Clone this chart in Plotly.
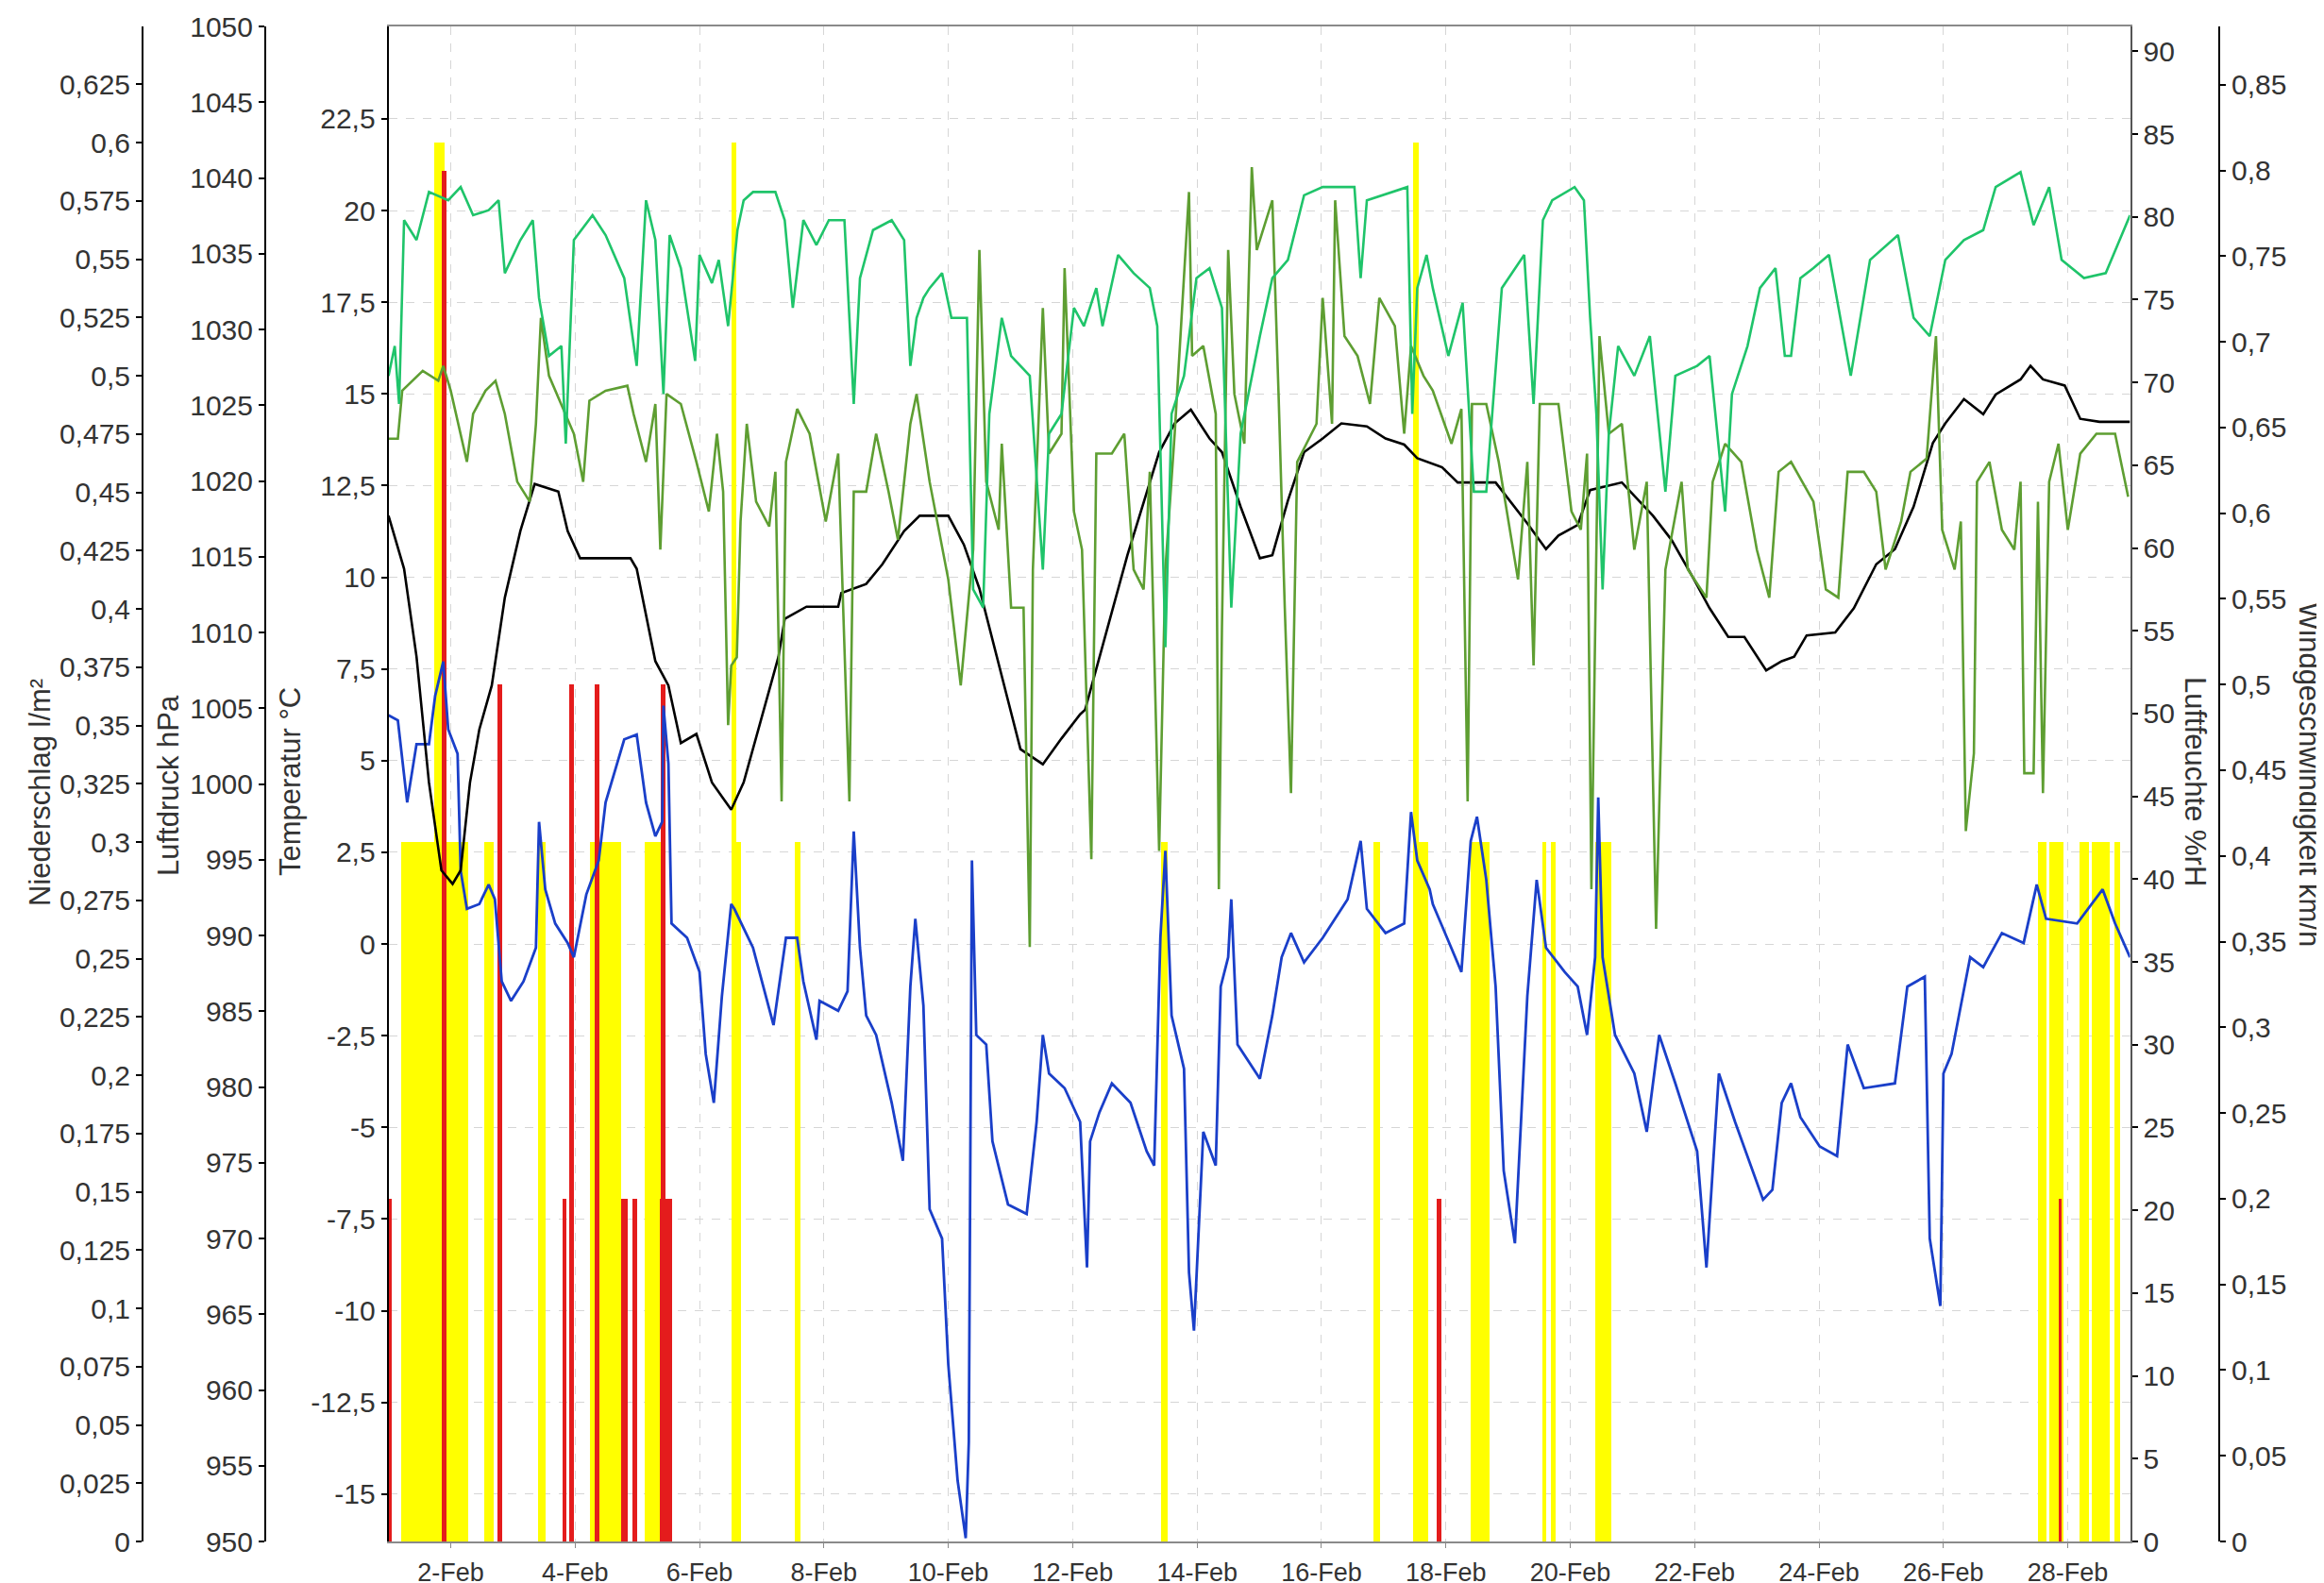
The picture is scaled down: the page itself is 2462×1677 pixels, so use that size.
import datetime as dt
import plotly.graph_objects as go

BASE = dt.datetime(2023, 2, 1)

# ---------------- data (day offsets from 1-Feb 00:00) ----------------
press_day = [0, 0.25, 0.45, 0.65, 0.85, 1.03, 1.16, 1.31, 1.46, 1.66, 1.87, 2.12, 2.35, 2.73, 2.88, 3.08, 3.89, 3.99,
             4.29, 4.5, 4.7, 4.95, 5.2, 5.51, 5.71, 6.27, 6.37, 6.72, 7.23, 7.28, 7.68, 7.94, 8.29, 8.54, 9.0, 9.25,
             9.5, 9.86, 10.16, 10.52, 10.82, 11.12, 11.2, 11.48, 11.88, 12.39, 12.64, 12.9, 13.2, 13.4, 13.7, 14.01,
             14.21, 14.46, 14.72, 15.02, 15.32, 15.73, 16.03, 16.33, 16.54, 16.94, 17.19, 17.8, 18.1, 18.31, 18.61,
             18.81, 19.12, 19.32, 19.83, 20.33, 20.63, 20.99, 21.24, 21.54, 21.8, 22.15, 22.4, 22.6, 22.8, 23.26,
             23.56, 23.92, 24.22, 24.52, 24.83, 25.03, 25.33, 25.64, 25.84, 26.24, 26.4, 26.6, 26.95, 27.2, 27.51, 28.0]
press_val = [1017.7, 1014.2, 1008.4, 1000.1, 994.3, 993.4, 994.3, 1000.1, 1003.6, 1006.5, 1012.3, 1016.7, 1019.8,
             1019.3, 1016.7, 1014.9, 1014.9, 1014.2, 1008.1, 1006.5, 1002.7, 1003.3, 1000.1, 998.3, 1000.1, 1008.4,
             1010.9, 1011.7, 1011.7, 1012.6, 1013.2, 1014.5, 1016.7, 1017.7, 1017.7, 1015.8, 1012.9, 1007.1, 1002.3,
             1001.3, 1003.0, 1004.6, 1004.9, 1009.1, 1015.1, 1021.9, 1023.8, 1024.7, 1022.8, 1021.9, 1018.3, 1014.9,
             1015.1, 1018.7, 1021.9, 1022.8, 1023.8, 1023.6, 1022.8, 1022.4, 1021.5, 1020.9, 1019.9, 1019.9, 1018.3,
             1017.2, 1015.5, 1016.4, 1017.1, 1019.4, 1019.9, 1017.7, 1016.1, 1013.5, 1011.6, 1009.7, 1009.7, 1007.5,
             1008.1, 1008.4, 1009.8, 1010.0, 1011.6, 1014.5, 1015.5, 1018.3, 1022.5, 1023.8, 1025.4, 1024.4, 1025.7,
             1026.7, 1027.6, 1026.7, 1026.3, 1024.1, 1023.9, 1023.9]

temp_day = [0, 0.15, 0.3, 0.45, 0.65, 0.75, 0.88, 0.96, 1.11, 1.16, 1.26, 1.46, 1.61, 1.71, 1.82, 1.97, 2.17, 2.37,
            2.42, 2.52, 2.68, 2.88, 2.98, 3.18, 3.38, 3.49, 3.79, 3.99, 4.14, 4.29, 4.4, 4.42, 4.5, 4.55, 4.8, 5.0,
            5.1, 5.23, 5.36, 5.51, 5.56, 5.86, 6.19, 6.39, 6.57, 6.67, 6.88, 6.93, 7.23, 7.38, 7.48, 7.58, 7.68,
            7.84, 8.09, 8.27, 8.39, 8.47, 8.6, 8.7, 8.9, 9.0, 9.15, 9.28, 9.33, 9.38, 9.45, 9.61, 9.71, 9.96, 10.26,
            10.42, 10.52, 10.62, 10.87, 11.12, 11.23, 11.28, 11.43, 11.63, 11.93, 12.19, 12.31, 12.41, 12.49, 12.59,
            12.79, 12.87, 12.95, 13.1, 13.3, 13.38, 13.5, 13.55, 13.65, 13.86, 14.01, 14.21, 14.36, 14.51, 14.72,
            15.02, 15.42, 15.63, 15.73, 16.03, 16.33, 16.44, 16.54, 16.74, 16.79, 17.25, 17.4, 17.5, 17.65, 17.8,
            17.93, 18.11, 18.31, 18.46, 18.61, 18.91, 19.12, 19.27, 19.4, 19.45, 19.52, 19.72, 20.03, 20.23, 20.43,
            20.69, 21.04, 21.19, 21.39, 21.65, 22.1, 22.25, 22.4, 22.55, 22.7, 23.01, 23.29, 23.46, 23.72, 24.22,
            24.42, 24.7, 24.78, 24.95, 25.0, 25.13, 25.43, 25.64, 25.94, 26.29, 26.5, 26.65, 27.15, 27.56, 27.76, 28.0]
temp_val = [6.24, 6.1, 3.86, 5.45, 5.45, 6.77, 7.7, 5.85, 5.19, 2.0, 0.96, 1.09, 1.62, 1.22, -1.02, -1.55, -1.02, -0.1,
            3.33, 1.49, 0.56, 0.03, -0.36, 1.35, 2.28, 3.86, 5.58, 5.71, 3.86, 2.94, 3.33, 6.5, 4.92, 0.56, 0.17, -0.76,
            -3.0, -4.33, -1.42, 1.09, 0.96, -0.1, -2.21, 0.17, 0.17, -1.02, -2.61, -1.55, -1.82, -1.29, 3.07, -0.1,
            -1.95, -2.48, -4.33, -5.91, -1.16, 0.69, -1.68, -7.23, -8.03, -11.46, -14.63, -16.2, -13.57, 2.28, -2.48,
            -2.74, -5.38, -7.1, -7.36, -4.85, -2.48, -3.53, -3.93, -4.85, -8.82, -5.38, -4.59, -3.8, -4.33, -5.65,
            -6.04, 0.17, 2.54, -1.95, -3.4, -8.95, -10.54, -5.12, -6.04, -1.16, -0.36, 1.22, -2.74, -3.27, -3.67,
            -1.95, -0.36, 0.3, -0.5, 0.17, 1.22, 2.81, 0.96, 0.3, 0.56, 3.6, 2.28, 1.49, 1.09, -0.76, 2.81, 3.47,
            1.75, -1.16, -6.18, -8.16, -1.42, 1.75, -0.1, -0.76, -1.16, -2.48, -0.36, 4.0, -0.36, -2.48, -3.53,
            -5.12, -2.48, -3.8, -5.65, -8.82, -3.53, -4.85, -6.97, -6.7, -4.33, -3.8, -4.72, -5.52, -5.78, -2.74,
            -3.93, -3.8, -1.16, -0.89, -8.03, -9.87, -3.53, -3.0, -0.36, -0.63, 0.3, 0.03, 1.62, 0.69, 0.56, 1.49,
            0.56, -0.36]

hum_out_day = [0, 0.1, 0.17, 0.25, 0.45, 0.65, 0.96, 1.16, 1.36, 1.61, 1.77, 1.87, 2.12, 2.32, 2.42, 2.58, 2.78, 2.85,
               2.98, 3.28, 3.49, 3.79, 3.99, 4.14, 4.29, 4.42, 4.52, 4.7, 4.93, 5.0, 5.2, 5.31, 5.46, 5.61, 5.71,
               5.86, 6.22, 6.37, 6.5, 6.67, 6.88, 7.08, 7.33, 7.48, 7.58, 7.79, 8.09, 8.29, 8.39, 8.49, 8.6, 8.7,
               8.9, 9.05, 9.3, 9.4, 9.56, 9.66, 9.86, 10.01, 10.31, 10.52, 10.62, 10.82, 11.02, 11.18, 11.38, 11.48,
               11.73, 11.98, 12.24, 12.36, 12.49, 12.59, 12.79, 12.99, 13.2, 13.4, 13.55, 13.7, 14.01, 14.21, 14.46,
               14.72, 15.02, 15.53, 15.63, 15.73, 16.38, 16.46, 16.54, 16.69, 16.79, 17.04, 17.27, 17.45, 17.65,
               17.9, 18.26, 18.41, 18.56, 18.71, 19.07, 19.22, 19.32, 19.42, 19.52, 19.62, 19.77, 20.03, 20.28,
               20.53, 20.69, 21.04, 21.24, 21.49, 21.6, 21.85, 22.05, 22.3, 22.45, 22.55, 22.7, 22.91, 23.16, 23.51,
               23.82, 24.27, 24.52, 24.78, 25.03, 25.33, 25.64, 25.84, 26.24, 26.45, 26.7, 26.9, 27.26, 27.61, 28.0]
hum_out_val = [70.4, 72.2, 68.7, 79.8, 78.6, 81.5, 81.0, 81.8, 80.1, 80.4, 81.0, 76.6, 78.6, 79.8, 75.1, 71.6, 72.2,
               66.3, 78.6, 80.1, 78.9, 76.3, 71.0, 81.0, 78.6, 69.3, 78.9, 76.9, 71.3, 77.7, 76.0, 77.4, 73.4, 79.2,
               81.0, 81.5, 81.5, 79.8, 74.5, 79.8, 78.3, 79.8, 79.8, 68.7, 76.3, 79.2, 79.8, 78.6, 71.0, 73.9, 75.1,
               75.7, 76.6, 73.9, 73.9, 57.5, 56.4, 68.1, 73.9, 71.6, 70.4, 58.7, 66.9, 68.1, 74.5, 73.4, 75.7, 73.4,
               77.7, 76.6, 75.7, 73.4, 54.0, 68.1, 70.4, 76.3, 76.9, 74.5, 56.4, 66.9, 72.8, 76.3, 77.4, 81.3, 81.8,
               81.8, 76.3, 81.0, 81.8, 68.1, 75.7, 77.7, 75.7, 71.6, 74.8, 63.4, 63.4, 75.7, 77.7, 68.7, 79.8, 81.0,
               81.8, 81.0, 73.9, 68.1, 57.5, 66.9, 72.2, 70.4, 72.8, 63.4, 70.4, 71.0, 71.6, 62.2, 69.3, 72.2, 75.7,
               76.9, 71.6, 71.6, 76.3, 76.9, 77.7, 70.4, 77.4, 78.9, 73.9, 72.8, 77.4, 78.6, 79.2, 81.8, 82.7, 79.5,
               81.8, 77.4, 76.3, 76.6, 80.1]

hum_in_day = [0, 0.15, 0.22, 0.55, 0.8, 0.88, 1.0, 1.26, 1.36, 1.56, 1.72, 1.87, 2.07, 2.27, 2.37, 2.45, 2.58, 2.98,
              3.13, 3.23, 3.49, 3.84, 3.94, 4.14, 4.29, 4.37, 4.47, 4.7, 4.95, 5.15, 5.28, 5.38, 5.46, 5.51, 5.6,
              5.66, 5.76, 5.91, 6.12, 6.22, 6.32, 6.39, 6.57, 6.77, 7.03, 7.23, 7.41, 7.48, 7.68, 7.84, 8.04, 8.19,
              8.39, 8.49, 8.7, 9.0, 9.2, 9.4, 9.5, 9.61, 9.81, 9.86, 10.01, 10.21, 10.31, 10.36, 10.52, 10.62,
              10.82, 10.87, 11.02, 11.15, 11.3, 11.38, 11.63, 11.83, 11.98, 12.14, 12.24, 12.39, 12.49, 12.64,
              12.87, 12.92, 13.1, 13.3, 13.35, 13.4, 13.5, 13.6, 13.76, 13.88, 13.96, 14.21, 14.31, 14.41, 14.51,
              14.61, 14.92, 15.02, 15.17, 15.22, 15.37, 15.58, 15.78, 15.93, 16.18, 16.33, 16.44, 16.64, 16.79,
              17.09, 17.25, 17.35, 17.42, 17.65, 17.85, 18.16, 18.31, 18.41, 18.51, 18.81, 19.02, 19.17, 19.27,
              19.34, 19.47, 19.62, 19.83, 20.03, 20.23, 20.38, 20.53, 20.79, 20.89, 21.19, 21.29, 21.49, 21.75,
              22.0, 22.2, 22.35, 22.55, 22.91, 23.11, 23.31, 23.46, 23.72, 23.92, 24.07, 24.32, 24.47, 24.73,
              24.88, 24.98, 25.18, 25.28, 25.36, 25.49, 25.54, 25.74, 25.94, 26.14, 26.24, 26.3, 26.45, 26.52,
              26.6, 26.7, 26.85, 27.0, 27.2, 27.46, 27.76, 27.97]
hum_in_val = [66.6, 66.6, 69.5, 70.7, 70.1, 71.0, 69.5, 65.2, 68.1, 69.5, 70.1, 68.1, 64.0, 62.8, 67.5, 73.9, 70.4,
              66.9, 64.0, 68.9, 69.5, 69.8, 68.1, 65.2, 68.7, 59.9, 69.3, 68.7, 65.2, 62.2, 66.9, 63.4, 49.3, 52.9,
              53.4, 61.6, 67.5, 62.8, 61.3, 64.6, 44.7, 65.2, 68.4, 66.9, 61.6, 65.7, 44.7, 63.4, 63.4, 66.9, 63.4,
              60.5, 67.5, 69.3, 64.0, 58.1, 51.7, 59.9, 78.0, 64.0, 61.1, 66.3, 56.4, 56.4, 35.9, 58.7, 74.5, 65.7,
              66.9, 76.9, 62.2, 59.9, 41.2, 65.7, 65.7, 66.9, 58.7, 57.5, 64.6, 41.7, 58.7, 66.9, 81.5, 71.6, 72.2,
              68.1, 39.4, 55.2, 78.0, 69.3, 66.3, 83.0, 78.0, 81.0, 69.3, 56.4, 45.2, 65.2, 67.5, 75.1, 67.5, 81.0,
              72.8, 71.6, 68.7, 75.1, 73.4, 66.9, 72.2, 70.4, 69.5, 66.3, 68.4, 44.7, 68.7, 68.7, 65.2, 58.1, 65.2,
              52.9, 68.7, 68.7, 62.2, 61.1, 65.7, 39.4, 72.8, 66.9, 67.5, 59.9, 64.0, 37.0, 58.7, 64.0, 58.7, 57.0,
              64.0, 66.3, 65.2, 59.9, 57.0, 64.6, 65.2, 62.8, 57.5, 57.0, 64.6, 64.6, 63.4, 58.7, 61.6, 64.6, 65.4,
              72.8, 61.1, 58.7, 61.6, 42.9, 47.6, 64.0, 65.2, 61.1, 59.9, 64.0, 46.4, 46.4, 62.8, 45.2, 64.0, 66.3,
              61.1, 65.7, 66.9, 66.9, 63.1]

rain_start = [0.20, 1.54, 2.40, 3.23, 4.12, 5.51, 6.52, 12.41, 15.83, 16.46, 17.40, 18.54, 18.69, 19.40,
              26.52, 26.70, 27.18, 27.38, 27.74]
rain_end = [1.28, 1.69, 2.52, 3.74, 4.37, 5.66, 6.62, 12.52, 15.93, 16.71, 17.70, 18.61, 18.76, 19.65,
            26.65, 26.93, 27.33, 27.66, 27.84]
rain_val = [0.3] * len(rain_start)
rain_peak_start = [0.73, 5.51, 16.46]
rain_peak_end = [0.90, 5.58, 16.56]
rain_peak_val = [0.6, 0.6, 0.6]

wind_start = [0.00, 0.85, 1.74, 2.80, 2.90, 3.31, 3.74, 3.92, 4.35, 4.37, 16.84, 26.85]
wind_end = [0.05, 0.93, 1.82, 2.85, 2.98, 3.38, 3.84, 3.99, 4.55, 4.45, 16.92, 26.90]
wind_val = [0.2, 0.8, 0.5, 0.2, 0.5, 0.5, 0.2, 0.2, 0.2, 0.5, 0.2, 0.2]

temp_tickvals = [-15, -12.5, -10, -7.5, -5, -2.5, 0, 2.5, 5, 7.5, 10, 12.5, 15, 17.5, 20, 22.5]
temp_ticktext = ["-15", "-12,5", "-10", "-7,5", "-5", "-2,5", "0", "2,5", "5", "7,5", "10", "12,5",
                 "15", "17,5", "20", "22,5"]


def to_dt(days):
    return [BASE + dt.timedelta(days=d) for d in days]


def bar_mid(s, e):
    return [BASE + dt.timedelta(days=(a + b) / 2) for a, b in zip(s, e)]


def bar_w(s, e):
    return [(b - a) * 86400000 for a, b in zip(s, e)]


# ---------------- figure ----------------
W, H = 2462, 1677
MT, MB = 20, 52
PH = H - MT - MB

fig = go.Figure()

fig.add_trace(go.Bar(x=bar_mid(rain_start, rain_end), y=rain_val, width=bar_w(rain_start, rain_end),
                     marker=dict(color="#ffff00", line=dict(width=0)), yaxis="y", name="Niederschlag"))
fig.add_trace(go.Bar(x=bar_mid(rain_peak_start, rain_peak_end), y=rain_peak_val,
                     width=bar_w(rain_peak_start, rain_peak_end),
                     marker=dict(color="#ffff00", line=dict(width=0)), yaxis="y", name="Niederschlag"))
fig.add_trace(go.Bar(x=bar_mid(wind_start, wind_end), y=wind_val, width=bar_w(wind_start, wind_end),
                     marker=dict(color="#e41c1c", line=dict(width=0)), yaxis="y2", name="Wind"))
fig.add_trace(go.Scatter(x=to_dt(temp_day), y=temp_val, mode="lines", yaxis="y3",
                         line=dict(color="#1a3fc9", width=2.8), name="Temperatur"))
fig.add_trace(go.Scatter(x=to_dt(press_day), y=press_val, mode="lines", yaxis="y4",
                         line=dict(color="#000000", width=2.6), name="Luftdruck"))
fig.add_trace(go.Scatter(x=to_dt(hum_in_day), y=hum_in_val, mode="lines", yaxis="y5",
                         line=dict(color="#5e9e32", width=2.6), name="Luftfeuchte innen"))
fig.add_trace(go.Scatter(x=to_dt(hum_out_day), y=hum_out_val, mode="lines", yaxis="y5",
                         line=dict(color="#1fc46a", width=2.6), name="Luftfeuchte"))

FONT = "Liberation Sans, Arial, sans-serif"
tickfont = dict(family=FONT, size=30, color="#333333")
xtickfont = dict(family=FONT, size=27, color="#333333")
common = dict(showline=True, linecolor="black", linewidth=2, ticks="outside", ticklen=6, tickwidth=1.5,
              tickcolor="black", tickfont=tickfont, showgrid=False, zeroline=False, fixedrange=True)

x_dom = [403.6 / W, 2248.5 / W]

fig.update_layout(
    width=W, height=H,
    margin=dict(l=0, r=0, t=MT, b=MB, pad=0),
    paper_bgcolor="white", plot_bgcolor="white",
    separators=", ",
    barmode="overlay", bargap=0,
    showlegend=False,
    font=dict(family=FONT, size=30, color="#333333"),
    xaxis=dict(domain=x_dom, anchor="y", type="date",
               range=[BASE, BASE + dt.timedelta(days=28)],
               tick0="2023-02-02", dtick=2 * 86400000, tickformat="%-d-%b",
               showline=True, mirror=True, linecolor="#8a8a8a", linewidth=1.5,
               ticks="outside", ticklen=5, tickcolor="#8a8a8a", ticklabelstandoff=3,
               tickfont=xtickfont, showgrid=True, gridcolor="#d6d6d6", griddash="dash", gridwidth=1,
               zeroline=False),
    yaxis=dict(common, range=[0, 0.6499], dtick=0.025, anchor="free", position=143 / W, side="left"),
    yaxis2=dict(common, range=[0, 0.884], dtick=0.05, anchor="free", position=2343 / W, side="right",
                overlaying="y"),
    yaxis3=dict(common, range=[-16.29, 25.02], tickmode="array", tickvals=temp_tickvals,
                ticktext=temp_ticktext, anchor="x", side="left", overlaying="y",
                showgrid=True, gridcolor="#d6d6d6", griddash="dash", gridwidth=1),
    yaxis4=dict(common, range=[950, 1050], dtick=5, anchor="free", position=273 / W, side="left",
                overlaying="y"),
    yaxis5=dict(common, range=[0, 91.5], dtick=5, anchor="x", side="right", overlaying="y",
                linecolor="#555555"),
)

def py(yfull):
    return (H - MB - yfull) / PH

titles = [
    ("Niederschlag l/m²", 35, 832, -90),
    ("Luftdruck hPa", 170, 824, -90),
    ("Temperatur °C", 299, 820, -90),
    ("Luftfeuchte %rH", 2318, 820, 90),
    ("Windgeschwindigkeit km/h", 2439, 812, 90),
]
for text, xf, yf, ang in titles:
    fig.add_annotation(text=text, x=xf / W, y=py(yf), xref="paper", yref="paper", showarrow=False,
                       textangle=ang, xanchor="center", yanchor="middle",
                       font=dict(family=FONT, size=31, color="#333333"))

fig.write_html("out.html")
